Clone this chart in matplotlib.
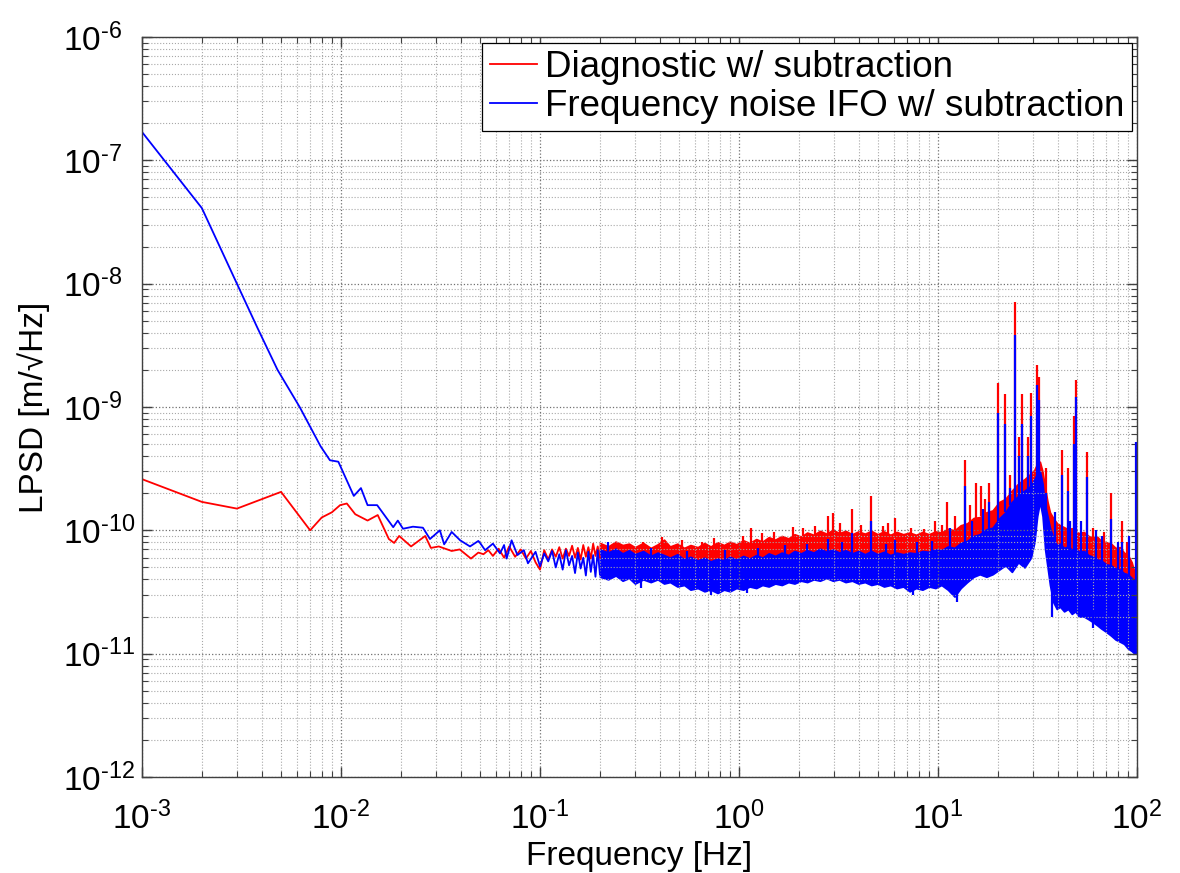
import numpy as np
import matplotlib
matplotlib.use('Agg')
from matplotlib import pyplot as plt
from matplotlib.ticker import FixedLocator, FixedFormatter

# ---- data (values in units of 1e-11 m/sqrt(Hz)) ----
# low-frequency part of each trace (single line, zigzag)
red_f = [0.001, 0.002, 0.003, 0.005, 0.007, 0.008, 0.009, 0.0099, 0.0107, 0.0118,
         0.0136, 0.0153, 0.0174, 0.0185, 0.0196, 0.0225, 0.0265, 0.0283, 0.031, 0.036,
         0.0395, 0.045, 0.049, 0.052, 0.055, 0.058, 0.062, 0.066, 0.07, 0.075,
         0.08, 0.085, 0.09, 0.095, 0.1, 0.105, 0.11, 0.115, 0.12, 0.125,
         0.13, 0.135, 0.14, 0.145, 0.15, 0.155, 0.16, 0.165, 0.17, 0.175,
         0.18, 0.185, 0.19, 0.195, 0.2]
red_v = [26, 17, 15, 20.5, 10, 12.7, 14, 16, 16.5, 13.5,
         12, 13.3, 8.5, 7.9, 9.0, 7.4, 9.0, 7.2, 7.4, 6.8,
         7.0, 5.9, 6.6, 6.4, 6.9, 6.2, 7.1, 6.0, 7.4, 6.1,
         7.0, 5.9, 6.8, 5.5, 4.8, 6.9, 5.8, 7.0, 6.1, 7.3,
         5.9, 7.1, 6.2, 7.5, 6.0, 7.2, 5.8, 7.6, 6.1, 7.3,
         5.9, 7.8, 6.2, 7.4, 6.0]

blue_f = [0.001, 0.002, 0.003, 0.0038, 0.0048, 0.0062, 0.0079, 0.0088, 0.0097, 0.0116,
          0.0126, 0.0136, 0.0152, 0.0183, 0.0193, 0.0205, 0.023, 0.0258, 0.028, 0.0314,
          0.033, 0.036, 0.0397, 0.0445, 0.049, 0.05, 0.053, 0.058, 0.063, 0.066,
          0.068, 0.072, 0.077, 0.083, 0.087, 0.095, 0.1, 0.105, 0.11, 0.115,
          0.12, 0.125, 0.13, 0.135, 0.14, 0.145, 0.15, 0.155, 0.16, 0.165,
          0.17, 0.175, 0.18, 0.185, 0.19, 0.195, 0.2]
blue_v = [17000, 4100, 1000, 440, 200, 100, 48, 37, 36, 19,
          22, 16, 16, 10.6, 12, 10.3, 10.7, 10.5, 8.5, 10,
          7.7, 9.7, 8.3, 7.4, 8.2, 7.9, 6.9, 7.8, 6.5, 7.6,
          5.9, 8.3, 6.3, 6.9, 5.4, 6.7, 5.1, 6.5, 5.6, 6.8,
          5.0, 6.4, 4.8, 6.9, 5.2, 6.2, 4.5, 6.6, 4.9, 6.0,
          4.3, 6.7, 4.6, 6.3, 4.2, 6.9, 4.4]

# noisy band above 0.2 Hz: lower / upper envelope of each trace
band_f = [0.2, 0.22, 0.24, 0.26, 0.28, 0.3, 0.33, 0.36, 0.39, 0.42,
          0.45, 0.49, 0.53, 0.57, 0.62, 0.67, 0.72, 0.78, 0.84, 0.9,
          0.97, 1.05, 1.13, 1.22, 1.31, 1.41, 1.52, 1.64, 1.77, 1.9,
          2.05, 2.2, 2.37, 2.55, 2.75, 2.96, 3.19, 3.43, 3.7, 3.98,
          4.29, 4.62, 4.97, 5.35, 5.76, 6.2, 6.68, 7.2, 7.75, 8.35,
          9.0, 9.7, 10.4, 11.2, 12.1, 13.0, 14.0, 15.1, 16.2, 17.5,
          18.8, 20.3, 21.8, 23.5, 25.3, 27.2, 29.3, 30.5, 31.5, 32.5,
          33.5, 34.5, 35.5, 36.5, 38, 39.5, 41, 43, 45, 47,
          49, 51, 54, 57, 60, 63, 66, 70, 74, 78,
          82, 86, 90, 94, 97, 100]
red_hi = [7.9, 7.4, 8.1, 7.6, 7.8, 7.3, 7.9, 7.2, 7.7, 8.4,
          7.4, 7.8, 7.2, 7.6, 7.3, 7.9, 7.4, 8.0, 7.6, 8.1,
          7.7, 8.3, 7.9, 8.5, 8.1, 8.8, 8.4, 9.0, 8.6, 9.3,
          8.9, 9.6, 9.2, 9.9, 9.4, 10.1, 9.5, 9.9, 9.3, 9.8,
          9.4, 9.9, 9.3, 9.8, 9.2, 9.7, 9.3, 9.6, 9.2, 9.7,
          9.3, 9.8, 9.6, 10.3, 10.0, 11.0, 11.4, 12.6, 12.8, 14.0,
          14.5, 17.0, 18, 21, 24, 26, 29, 31, 35, 36,
          30, 22, 17, 14, 12.5, 11.5, 11.0, 10.6, 10.2, 10.4,
          9.8, 9.5, 9.7, 9.0, 8.8, 8.9, 8.2, 8.0, 7.8, 7.2,
          7.3, 6.6, 6.3, 5.5, 4.6, 3.5]
red_lo = [5.8, 5.6, 5.9, 5.7, 5.6, 5.5, 5.7, 5.5, 5.6, 5.6,
          5.4, 5.3, 5.2, 5.2, 5.1, 5.0, 5.0, 5.0, 5.1, 5.1,
          5.2, 5.2, 5.3, 5.3, 5.4, 5.5, 5.5, 5.6, 5.7, 5.8,
          5.9, 5.9, 6.0, 6.0, 6.0, 6.0, 6.0, 6.0, 6.0, 6.0,
          5.9, 5.9, 5.9, 5.9, 5.9, 5.8, 5.8, 5.8, 5.8, 5.9,
          6.0, 6.1, 6.2, 6.3, 6.4, 6.7, 7.0, 7.3, 7.5, 7.8,
          8.2, 9.0, 10, 11, 12, 13, 15, 17, 19, 20,
          17, 12, 9, 7, 5, 4, 3.8, 3.6, 3.4, 3.2,
          3.1, 3.0, 2.9, 2.8, 2.6, 2.5, 2.4, 2.3, 2.2, 2.1,
          2.0, 1.9, 1.8, 1.7, 1.6, 1.5]
blue_hi = [7.0, 6.6, 7.1, 6.5, 6.9, 6.4, 6.8, 6.2, 6.6, 6.3,
           6.0, 6.4, 5.8, 6.1, 5.7, 6.0, 5.6, 5.9, 5.7, 6.1,
           5.8, 6.2, 5.9, 6.3, 6.0, 6.5, 6.2, 6.6, 6.3, 6.8,
           6.5, 6.9, 6.6, 7.1, 6.7, 7.0, 6.6, 6.9, 6.5, 6.8,
           6.4, 6.8, 6.4, 6.7, 6.3, 6.6, 6.4, 6.6, 6.5, 6.8,
           6.7, 7.0, 6.9, 7.4, 7.2, 7.9, 8.2, 9.0, 9.3, 10.2,
           10.5, 12.5, 14, 17, 19, 21, 23, 26, 29, 30,
           24, 16, 13, 10.5, 8.6, 7.6, 7.8, 7.2, 7.4, 7.0,
           7.1, 6.7, 6.8, 6.3, 6.1, 5.8, 5.7, 5.3, 5.2, 4.9,
           4.8, 4.5, 4.4, 4.1, 3.9, 3.8]
blue_lo = [4.2, 4.0, 4.3, 3.9, 4.1, 3.7, 4.0, 3.8, 4.0, 3.7,
           3.8, 3.5, 3.6, 3.3, 3.4, 3.2, 3.3, 3.1, 3.3, 3.2,
           3.4, 3.3, 3.5, 3.4, 3.6, 3.5, 3.7, 3.6, 3.8, 3.7,
           3.9, 3.8, 4.0, 3.9, 4.1, 3.9, 4.0, 3.8, 3.9, 3.7,
           3.8, 3.6, 3.7, 3.5, 3.6, 3.4, 3.5, 3.2, 3.4, 3.3,
           3.5, 3.4, 3.6, 3.3, 2.9, 3.4, 3.8, 4.2, 4.4, 4.2,
           4.4, 4.8, 5.2, 4.6, 5.5, 5.0, 6.0, 8.0, 13, 17,
           13, 7.0, 5.0, 3.6, 2.6, 2.3, 2.4, 2.2, 2.3, 2.1,
           2.2, 2.0, 2.0, 1.9, 1.8, 1.7, 1.6, 1.5, 1.4, 1.3,
           1.25, 1.2, 1.1, 1.05, 1.0, 1.0]

# narrow lines sticking out of the band: frequency, bottom, top
red_spk_f = [0.33, 0.41, 0.52, 0.65, 0.75, 1.05, 1.15, 1.3, 1.5, 1.86,
             2.1, 2.4, 2.8, 2.95, 3.2, 3.7, 4.1, 4.6, 5.3, 5.6,
             6.1, 7.3, 8.5, 9.7, 10.5, 11.1, 12.2, 13.6, 14.5, 15.6,
             16.4, 17.2, 18.1, 19.9, 21.8, 22.9, 24.4, 25.5, 26.3, 28.3,
             29.3, 31.3, 32.3, 35, 42, 44.8, 48, 49.5, 55.8, 60,
             68, 74.3, 84, 89]
red_spk_lo = [7.0, 7.0, 7.0, 7.0, 7.0, 7.5, 7.5, 8.0, 8.0, 8.5,
              9.0, 9.0, 9.5, 9.5, 9.5, 9.5, 9.5, 9.5, 9.0, 9.0,
              9.0, 9.0, 9.0, 9.0, 9.5, 9.5, 10, 10, 11, 12,
              13, 13, 14, 15, 17, 20, 22, 24, 24, 27,
              28, 33, 34, 18, 11, 10, 9.5, 9.5, 9.0, 8.5,
              7.6, 7.3, 6.5, 6.0]
red_spk_hi = [8.0, 8.8, 8.3, 8.1, 8.6, 9.0, 10.4, 9.5, 9.7, 10.6,
              10.5, 10.8, 13, 13.7, 11.5, 15, 11, 19, 10.8, 11.5,
              12.5, 10.5, 10.2, 11.8, 11, 17, 13, 37, 16, 24,
              23, 18, 24, 156, 127, 28, 710, 57, 127, 57,
              130, 220, 175, 32, 45, 32, 84, 166, 43, 10.4,
              9.7, 20, 12, 8.0]

blue_spk_f = [0.22, 0.36, 0.55, 0.85, 1.25, 1.7, 2.2, 2.8, 3.3, 3.7,
              4.6, 5.5, 6.1, 7.8, 9.3, 11.5, 13.6, 14.8, 16.8, 18.1,
              19.9, 21.8, 22.9, 24.4, 25.5, 26.3, 28.3, 29.3, 31.3, 32.3,
              35, 38.5, 42, 44.8, 46, 48, 49.5, 52, 55.8, 62,
              67, 74.3, 80, 84, 91, 99]
blue_spk_lo = [6.5, 6.0, 5.5, 5.5, 6.0, 6.2, 6.5, 6.5, 6.5, 6.5,
               6.4, 6.3, 6.3, 6.4, 6.6, 7.0, 7.6, 8.5, 9.5, 10,
               12, 14, 16, 17, 19, 19, 21, 22, 27, 29,
               13, 8.0, 7.3, 7.0, 6.9, 6.8, 6.8, 6.6, 6.4, 5.9,
               5.5, 5.0, 4.8, 4.6, 4.2, 3.8]
blue_spk_hi = [8.0, 7.2, 6.8, 6.9, 7.2, 7.6, 7.8, 8.5, 8.0, 9.5,
               12, 7.8, 8.3, 8.0, 8.2, 10.5, 23, 12, 15, 17,
               90, 73, 22, 385, 40, 73, 40, 84, 150, 115,
               20, 14, 28, 21, 12, 50, 120, 12, 27, 10,
               9, 12.4, 8, 8, 9, 52]

# downward dips of the blue band: frequency, bottom, top
blue_dip_f = [0.32, 0.72, 1.1, 7.5, 12.4, 37.5, 60]
blue_dip_lo = [3.4, 3.0, 3.1, 3.0, 2.6, 2.0, 1.6]
blue_dip_hi = [4.5, 4.0, 4.0, 4.0, 3.5, 3.5, 2.2]

x_ticks = [1e-3, 1e-2, 1e-1, 1e0, 1e1, 1e2]
x_labels = ['-3', '-2', '-1', '0', '1', '2']
y_ticks = [1e-12, 1e-11, 1e-10, 1e-9, 1e-8, 1e-7, 1e-6]
y_labels = ['-12', '-11', '-10', '-9', '-8', '-7', '-6']

RED = '#ff0000'
BLUE = '#0000ff'
U = 1e-11  # unit of the typed values


def main():
    plt.rcParams['font.family'] = ['Liberation Sans', 'DejaVu Sans']
    plt.rcParams['mathtext.fontset'] = 'custom'
    plt.rcParams['mathtext.rm'] = 'Liberation Sans'
    plt.rcParams['mathtext.it'] = 'Liberation Sans:italic'
    plt.rcParams['axes.unicode_minus'] = False

    fig = plt.figure(figsize=(11.8, 8.73), dpi=100)
    ax = fig.add_axes([0.1203, 0.110, 0.8433, 0.8476])

    lw = 1.3
    # red trace
    ax.plot(red_f, np.array(red_v) * U, color=RED, lw=lw,
            label='Diagnostic w/ subtraction')
    ax.fill_between(band_f, np.array(red_lo) * U, np.array(red_hi) * U,
                    color=RED, lw=1.2, edgecolor=RED)
    ax.vlines(red_spk_f, np.array(red_spk_lo) * U, np.array(red_spk_hi) * U,
              color=RED, lw=1.6)

    # blue trace on top
    ax.plot(blue_f, np.array(blue_v) * U, color=BLUE, lw=lw,
            label='Frequency noise IFO w/ subtraction')
    ax.fill_between(band_f, np.array(blue_lo) * U, np.array(blue_hi) * U,
                    color=BLUE, lw=1.2, edgecolor=BLUE)
    ax.vlines(blue_spk_f, np.array(blue_spk_lo) * U, np.array(blue_spk_hi) * U,
              color=BLUE, lw=1.6)
    ax.vlines(blue_dip_f, np.array(blue_dip_lo) * U, np.array(blue_dip_hi) * U,
              color=BLUE, lw=1.6)

    ax.set_xscale('log')
    ax.set_yscale('log')
    ax.set_xlim(1e-3, 1e2)
    ax.set_ylim(1e-12, 1e-6)
    # MATLAB style labels: 10 with a short hyphen in the exponent
    ax.xaxis.set_major_locator(FixedLocator(x_ticks))
    ax.xaxis.set_major_formatter(FixedFormatter(
        [r'10$^{\text{%s}}$' % e for e in x_labels]))
    ax.yaxis.set_major_locator(FixedLocator(y_ticks))
    ax.yaxis.set_major_formatter(FixedFormatter(
        [r'10$^{\text{%s}}$' % e for e in y_labels]))

    ax.grid(True, which='major', linestyle=':', color='#707070', lw=0.9)
    ax.grid(True, which='minor', linestyle=':', color='#a8a8a8', lw=0.8)
    ax.tick_params(which='both', direction='in', top=True, right=True,
                   labelsize=24, colors='#404040', labelcolor='black')
    ax.tick_params(which='major', length=7, width=1)
    ax.tick_params(which='minor', length=4, width=0.8)
    ax.tick_params(axis='x', pad=18)
    ax.tick_params(axis='y', pad=57)
    for lbl in ax.get_yticklabels():
        lbl.set_horizontalalignment('left')
    for s in ax.spines.values():
        s.set_color('#404040')
        s.set_linewidth(1.0)

    ax.set_xlabel('Frequency [Hz]', fontsize=24, labelpad=3)
    ax.set_ylabel('LPSD [m/\u221aHz]', fontsize=24)
    ax.yaxis.set_label_coords(-0.0925, 0.5)

    leg = ax.legend(loc='upper right', fontsize=26.5, handlelength=1.28,
                    handletextpad=0.22, borderaxespad=0.15, borderpad=0.2,
                    labelspacing=0.1, fancybox=False, framealpha=1)
    leg.get_frame().set_edgecolor('black')
    leg.get_frame().set_linewidth(0.9)

    fig.savefig('out.png', dpi=100)
    plt.close(fig)


if __name__ == "__main__":
    main()
